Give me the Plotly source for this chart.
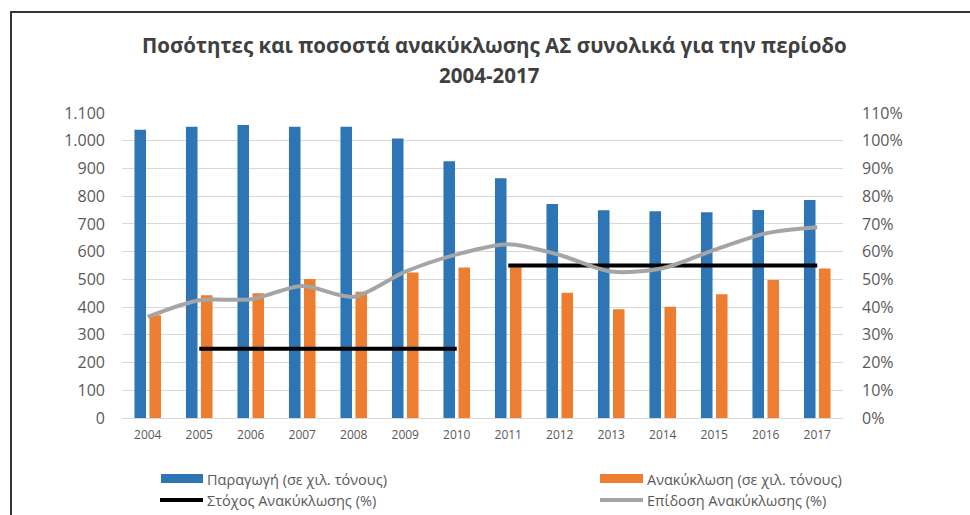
import plotly.graph_objects as go

# Data (thousand tonnes and recycling rates)
years = ["2004", "2005", "2006", "2007", "2008", "2009", "2010",
         "2011", "2012", "2013", "2014", "2015", "2016", "2017"]
production = [1040, 1050, 1057, 1050, 1050, 1008, 926,
              865, 772, 749, 746, 742, 750, 786]
recycling = [371, 443, 450, 501, 455, 525, 543,
             548, 452, 392, 401, 446, 498, 539]
target_rate = [None, 0.25, 0.25, 0.25, 0.25, 0.25, 0.25,
               0.55, 0.55, 0.55, 0.55, 0.55, 0.55, 0.55]
actual_rate = [0.365, 0.425, 0.428, 0.476, 0.437, 0.528, 0.590,
               0.627, 0.588, 0.528, 0.540, 0.606, 0.666, 0.688]

left_ticks = list(range(0, 1101, 100))
right_ticks = [i / 10 for i in range(0, 12)]

title_line1 = "Ποσότητες και ποσοστά ανακύκλωσης ΑΣ συνολικά για την περίοδο"
title_line2 = "2004-2017"
legend_labels = ["Παραγωγή (σε χιλ. τόνους)", "Ανακύκλωση (σε χιλ. τόνους)",
                 "Στόχος Ανακύκλωσης (%)", "Επίδοση Ανακύκλωσης (%)"]

BLUE = "#2e75b6"
ORANGE = "#ed7d31"
BLACK = "#000000"
GRAY = "#a5a5a5"
TEXT = "#595959"
FONT = "Open Sans"

W, H = 970, 515
PL, PR, PT, PB = 122, 843, 113, 418


def fx(px):
    return (px - PL) / (PR - PL)


def fy(py):
    return (PB - py) / (PB - PT)


# Split the target series into its constant-value segments
tx, ty = [], []
prev = None
for yr, v in zip(years, target_rate):
    if v is None:
        prev = None
        continue
    if prev is not None and v != prev:
        tx.append(None)
        ty.append(None)
    tx.append(yr)
    ty.append(v)
    prev = v

fig = go.Figure()
fig.add_trace(go.Bar(x=years, y=production, name=legend_labels[0],
                     marker=dict(color=BLUE, line=dict(width=0)),
                     showlegend=False))
fig.add_trace(go.Bar(x=years, y=recycling, name=legend_labels[1],
                     marker=dict(color=ORANGE, line=dict(width=0)),
                     showlegend=False))
fig.add_trace(go.Scatter(x=tx, y=ty, name=legend_labels[2], yaxis="y2",
                         mode="lines", line=dict(color=BLACK, width=4),
                         connectgaps=False, showlegend=False))
fig.add_trace(go.Scatter(x=years, y=actual_rate, name=legend_labels[3],
                         yaxis="y2", mode="lines",
                         line=dict(color=GRAY, width=4, shape="spline",
                                   smoothing=0.8),
                         showlegend=False))

shapes = [
    # outer frame
    dict(type="rect", xref="paper", yref="paper",
         x0=fx(11), x1=fx(990), y0=fy(12), y1=fy(540),
         line=dict(color="#333333", width=2), fillcolor="rgba(0,0,0,0)",
         layer="below"),
    # legend swatches
    dict(type="rect", xref="paper", yref="paper",
         x0=fx(161), x1=fx(203), y0=fy(474), y1=fy(483),
         fillcolor=BLUE, line=dict(width=0)),
    dict(type="rect", xref="paper", yref="paper",
         x0=fx(600), x1=fx(643), y0=fy(474), y1=fy(483),
         fillcolor=ORANGE, line=dict(width=0)),
    dict(type="line", xref="paper", yref="paper",
         x0=fx(160), x1=fx(203), y0=fy(500), y1=fy(500),
         line=dict(color=BLACK, width=4)),
    dict(type="line", xref="paper", yref="paper",
         x0=fx(600), x1=fx(643), y0=fy(500), y1=fy(500),
         line=dict(color=GRAY, width=4)),
]

annotations = [
    dict(text=f"<b>{title_line1}</b>", xref="paper", yref="paper",
         x=fx(494), y=fy(45), xanchor="center", yanchor="middle",
         showarrow=False, font=dict(family=FONT, size=20.5, color="#404040")),
    dict(text=f"<b>{title_line2}</b>", xref="paper", yref="paper",
         x=fx(489), y=fy(75), xanchor="center", yanchor="middle",
         showarrow=False, font=dict(family=FONT, size=20.5, color="#404040")),
]
legend_pos = [(205, 479), (645, 479), (205, 500), (645, 500)]
for label, (lx, ly) in zip(legend_labels, legend_pos):
    annotations.append(dict(text=label, xref="paper", yref="paper",
                            x=fx(lx), y=fy(ly), xanchor="left",
                            yanchor="middle", showarrow=False,
                            font=dict(family=FONT, size=14.5, color=TEXT)))

fig.update_layout(
    width=W, height=H,
    margin=dict(l=PL, r=W - PR, t=PT, b=H - PB, pad=0),
    paper_bgcolor="white", plot_bgcolor="white",
    separators=",.",
    barmode="group", bargap=0.417, bargroupgap=0.23,
    font=dict(family=FONT, color=TEXT),
    shapes=shapes, annotations=annotations,
    xaxis=dict(type="category", showgrid=False, showline=True,
               linecolor="#d9d9d9", linewidth=1, ticks="",
               tickfont=dict(size=12, color=TEXT), ticklabelstandoff=6),
    yaxis=dict(range=[0, 1100], tickvals=left_ticks, tickformat=",.0f",
               showgrid=True, gridcolor="#d9d9d9", gridwidth=1,
               zeroline=False, ticks="", showline=False,
               tickfont=dict(size=16, color=TEXT), ticklabelstandoff=16),
    yaxis2=dict(range=[0, 1.1], tickvals=right_ticks, tickformat=".0%",
                overlaying="y", side="right", showgrid=False,
                zeroline=False, ticks="", showline=False,
                tickfont=dict(size=16, color=TEXT), ticklabelstandoff=18),
)

fig.write_html("out.html")
